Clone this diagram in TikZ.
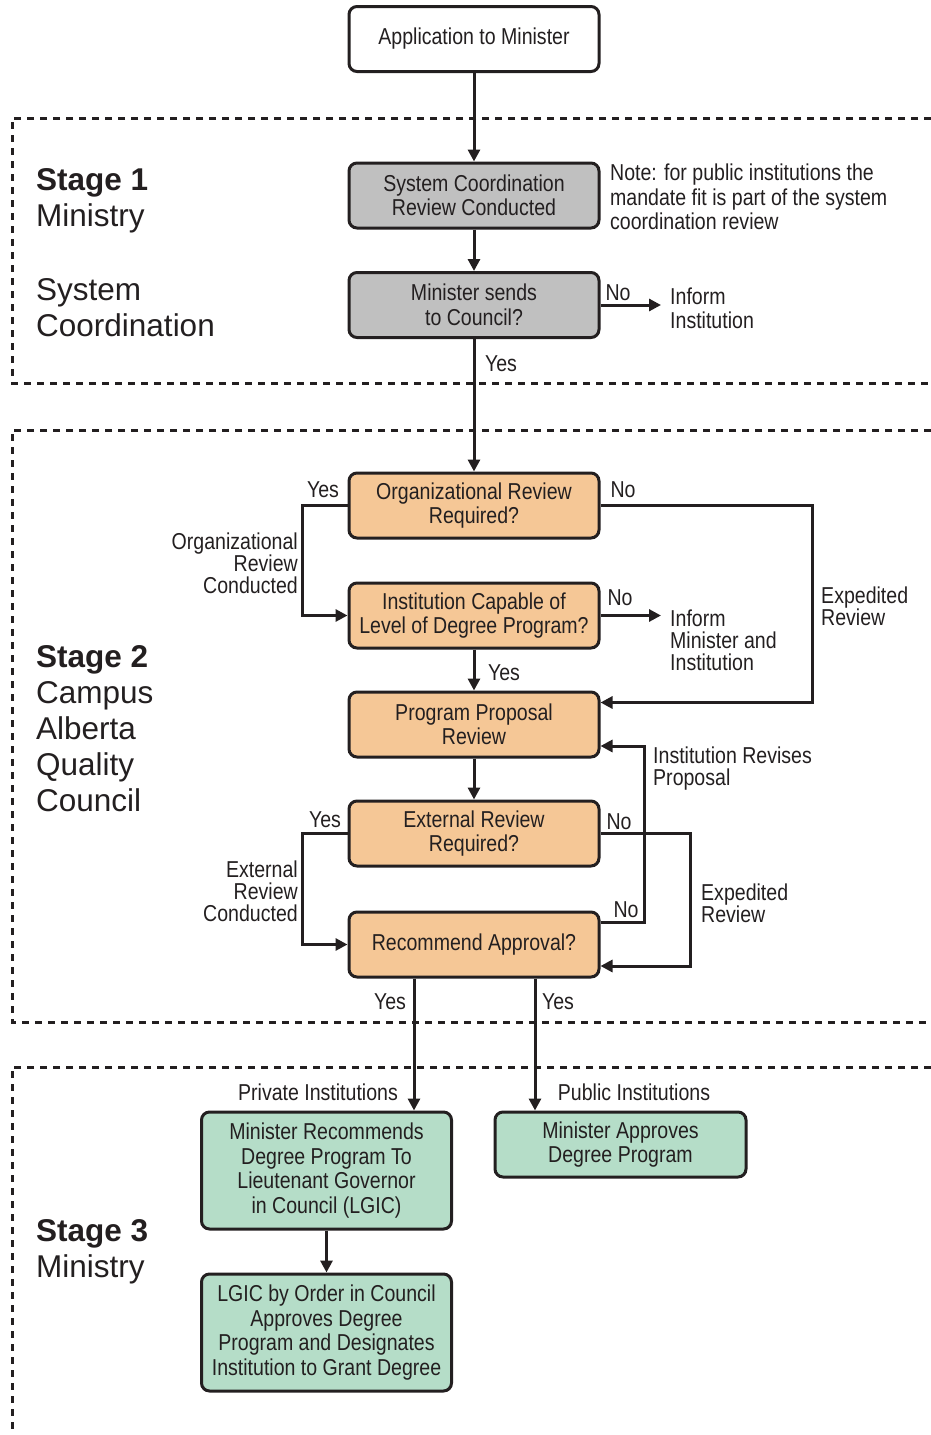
\documentclass[tikz,border=0pt]{standalone}
\usepackage{fontspec}
\setmainfont{Liberation Sans}
\newfontfamily\narrowfont{Liberation Sans}[FakeStretch=0.85]
\newfontfamily\stagefont{Liberation Sans}
\usetikzlibrary{arrows.meta,calc}
\definecolor{ink}{HTML}{231F20}
\definecolor{grayfill}{HTML}{C0C0C0}
\definecolor{orangefill}{HTML}{F5C796}
\definecolor{greenfill}{HTML}{B5DDC8}
\tikzset{
  stepbox/.style={draw=ink, line width=3pt, rounded corners=8pt,
    minimum width=250pt, minimum height=65pt, inner sep=0pt,
    align=center, text=ink,
    font=\narrowfont\fontsize{23}{24.5}\selectfont},
  lbl/.style={inner sep=0pt, text=ink, yshift=-2pt,
    font=\narrowfont\fontsize{23}{22}\selectfont},
  stagelbl/.style={inner sep=0pt, text=ink, anchor=west, align=left, yshift=-3pt,
    font=\stagefont\fontsize{31.5}{36}\selectfont},
  conn/.style={draw=ink, line width=3pt},
  arr/.style={conn, -{Triangle[length=12pt,width=12pt]}},
  frame/.style={draw=ink, line width=3pt, dash pattern=on 7pt off 6pt}
}
\begin{document}
\begin{tikzpicture}[x=1pt,y=-1pt]
\useasboundingbox (0,0) rectangle (931,1435);

% stage frames
\draw[frame] (931,118) -- (12,118) -- (12,383) -- (931,383);
\draw[frame] (931,430) -- (12,430) -- (12,1022) -- (931,1022);
\draw[frame] (931,1067) -- (12,1067) -- (12,1435);

% stage titles
\node[stagelbl] (s1a) at (36,198) {\textbf{Stage 1}\\Ministry};
\node[stagelbl] (s1b) at (36,304.5) {System\\Coordination};
\node[stagelbl] (s2) at (36,725.5) {\textbf{Stage 2}\\Campus\\Alberta\\Quality\\Council};
\node[stagelbl] (s3) at (36,1248.5) {\textbf{Stage 3}\\Ministry};

% steps
\node[stepbox, fill=white] (app) at (474,39) {Application to Minister};
\node[stepbox, fill=grayfill] (sys) at (474,195.5) {System Coordination\\Review Conducted};
\node[stepbox, fill=grayfill] (send) at (474,305) {Minister sends\\to Council?};
\node[stepbox, fill=orangefill] (org) at (474,505.5) {Organizational Review\\Required?};
\node[stepbox, fill=orangefill] (cap) at (474,615.5) {Institution Capable of\\Level of Degree Program?};
\node[stepbox, fill=orangefill] (prop) at (474,724.5) {Program Proposal\\Review};
\node[stepbox, fill=orangefill] (ext) at (474,833.5) {External Review\\Required?};
\node[stepbox, fill=orangefill] (rec) at (474,944.5) {Recommend Approval?};
\node[stepbox, fill=greenfill, minimum height=117pt] (lgrec) at (326.5,1170.5)
  {Minister Recommends\\Degree Program To\\Lieutenant Governor\\in Council (LGIC)};
\node[stepbox, fill=greenfill, minimum width=251pt] (appr) at (620.5,1144.5)
  {Minister Approves\\Degree Program};
\node[stepbox, fill=greenfill, minimum height=117pt] (lgic) at (326.5,1332.5)
  {LGIC by Order in Council\\Approves Degree\\Program and Designates\\Institution to Grant Degree};

% side notes
\node[lbl, anchor=west, align=left, font=\narrowfont\fontsize{23}{24.5}\selectfont]
  (note) at (610,195) {Note: for public institutions the\\mandate fit is part of the system\\coordination review};
\coordinate (inf1) at (661,305);
\node[lbl, anchor=west, align=left, font=\narrowfont\fontsize{23}{24}\selectfont]
  (inf1t) at (670,306) {Inform\\Institution};
\coordinate (inf2) at (661,615.5);
\node[lbl, anchor=west, align=left] (inf2t) at (670,638) {Inform\\Minister and\\Institution};

% connectors
\draw[arr] (app) -- (sys);
\draw[arr] (sys) -- (send);
\draw[arr] (send.east) -- (inf1);
\draw[arr] (send) -- (org);
\draw[arr] (org.west) -- ++(-45,0) |- (cap.west);
\draw[arr] (org.east) -- ++(212,0) |- ([yshift=22pt]prop.east);
\draw[arr] (cap.east) -- (inf2);
\draw[arr] (cap) -- (prop);
\draw[arr] (prop) -- (ext);
\draw[arr] ([yshift=22.5pt]rec.east) -- ++(44,0) |- ([yshift=-21.5pt]prop.east);
\draw[arr] (ext.west) -- ++(-45,0) |- (rec.west);
\draw[arr] (ext.east) -- ++(90,0) |- ([yshift=-21.5pt]rec.east);
\draw[arr] ([xshift=-60pt]rec.south) -- ([xshift=-60pt]rec.south |- lgrec.north);
\draw[arr] ([xshift=61pt]rec.south) -- ([xshift=61pt]rec.south |- appr.north);
\draw[arr] (lgrec) -- (lgic);

% branch labels
\node[lbl] (l1) at (618,291) {No};
\node[lbl] (l2) at (501,362) {Yes};
\node[lbl] (l3) at (323,488) {Yes};
\node[lbl] (l4) at (623,488) {No};
\node[lbl, anchor=east, align=right] (l5) at (298,561.5) {Organizational\\Review\\Conducted};
\node[lbl, anchor=west, align=left] (l6) at (821,604) {Expedited\\Review};
\node[lbl] (l7) at (620,596) {No};
\node[lbl] (l8) at (504,671) {Yes};
\node[lbl, anchor=west, align=left] (l9) at (653,766.5) {Institution Revises\\Proposal};
\node[lbl] (l10) at (325,818) {Yes};
\node[lbl] (l11) at (619,820) {No};
\node[lbl, anchor=east, align=right] (l12) at (298,889.5) {External\\Review\\Conducted};
\node[lbl, anchor=west, align=left] (l13) at (701,901) {Expedited\\Review};
\node[lbl] (l14) at (626,908) {No};
\node[lbl] (l15) at (390,1000) {Yes};
\node[lbl] (l16) at (558,1000) {Yes};
\node[lbl] (l17) at (318,1090) {Private Institutions};
\node[lbl] (l18) at (634,1090) {Public Institutions};
\end{tikzpicture}
\end{document}
